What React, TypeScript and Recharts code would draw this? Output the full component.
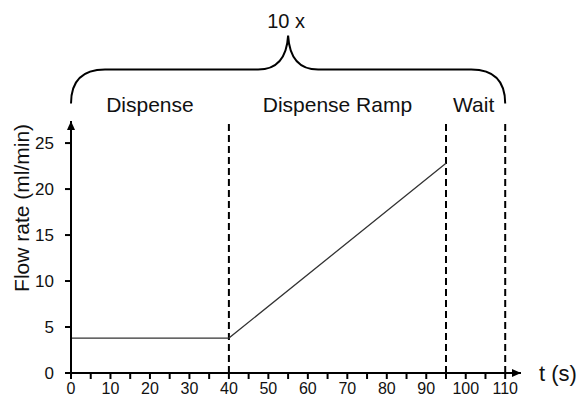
import {
  LineChart,
  Line,
  XAxis,
  YAxis,
  ReferenceLine,
  ReferenceDot,
  ReferenceArea,
} from "recharts";

const times = [0, 40, 95];
const flowRates = [3.8, 3.8, 22.8];
const xTicks = [0, 5, 10, 15, 20, 25, 30, 35, 40, 45, 50, 55, 60, 65, 70, 75, 80, 85, 90, 95, 100, 105, 110];
const yTicks = [0, 5, 10, 15, 20, 25];
const phaseBounds = [40, 95, 110];
const phaseNames = ["Dispense", "Dispense Ramp", "Wait"];
const phaseCenters = [20, 67.5, 102];
const repeatLabel = "10 x";

const data = times.map((t, i) => ({ t, flow: flowRates[i] }));

const FONT = "'Liberation Sans', Arial, sans-serif";

function XArrow(props: any) {
  const { cx, cy } = props;
  return (
    <g>
      <path d={`M${cx},${cy} L${cx - 9},${cy - 4} L${cx - 9},${cy + 4} Z`} fill="#000" />
      <text x={cx + 18} y={cy + 8} fontSize={22} fontFamily={FONT} fill="#111">
        t (s)
      </text>
    </g>
  );
}

function YArrow(props: any) {
  const { cx, cy } = props;
  return <path d={`M${cx},${cy} L${cx - 4},${cy + 9} L${cx + 4},${cy + 9} Z`} fill="#000" />;
}

function Brace(props: any) {
  const { x, y, width, height } = props;
  const r = 34;
  const mid = x + width / 2;
  const base = y + height - r;
  const d = [
    `M${x},${y + height}`,
    `Q${x},${base} ${x + r},${base}`,
    `L${mid - 30},${base}`,
    `Q${mid - 2},${base} ${mid},${y}`,
    `Q${mid + 2},${base} ${mid + 30},${base}`,
    `L${x + width - r},${base}`,
    `Q${x + width},${base} ${x + width},${y + height}`,
  ].join(" ");
  return <path d={d} fill="none" stroke="#000" strokeWidth={2} />;
}

function textShape(label: string, size: number) {
  return (props: any) => (
    <text
      x={props.cx}
      y={props.cy}
      textAnchor="middle"
      fontSize={size}
      fontFamily={FONT}
      fill="#111"
    >
      {label}
    </text>
  );
}

function YLabel(props: any) {
  const { viewBox } = props;
  const x = 22;
  const y = viewBox.y + viewBox.height * 0.345;
  return (
    <text
      x={x}
      y={y}
      transform={`rotate(-90 ${x} ${y})`}
      textAnchor="middle"
      dominantBaseline="central"
      fontSize={21}
      fontFamily={FONT}
      fill="#111"
    >
      Flow rate (ml/min)
    </text>
  );
}

export default function App() {
  return (
    <div style={{ position: "absolute", left: 0, top: 0, background: "#fff" }}>
      <LineChart
        width={579}
        height={401}
        data={data}
        margin={{ top: 121, right: 58, bottom: 0, left: 0 }}
      >
        <XAxis
          dataKey="t"
          type="number"
          domain={[0, 114]}
          ticks={xTicks}
          interval={0}
          tickFormatter={(v: number) => (v % 10 === 0 ? String(v) : "")}
          height={28}
          tickSize={6}
          tickMargin={4}
          axisLine={{ stroke: "#000", strokeWidth: 2 }}
          tickLine={{ stroke: "#000", strokeWidth: 2 }}
          tick={{ fontSize: 16, fontFamily: FONT, fill: "#111" }}
          allowDataOverflow
        />
        <YAxis
          type="number"
          domain={[0, 27.4]}
          ticks={yTicks}
          interval={0}
          width={71}
          tickSize={6}
          tickMargin={11}
          axisLine={{ stroke: "#000", strokeWidth: 2 }}
          tickLine={{ stroke: "#000", strokeWidth: 2 }}
          tick={{ fontSize: 17, fontFamily: FONT, fill: "#111" }}
          label={<YLabel />}
          allowDataOverflow
        />
        {phaseBounds.map((b) => (
          <ReferenceLine
            key={b}
            x={b}
            stroke="#000"
            strokeWidth={2}
            strokeDasharray="7 4"
          />
        ))}
        <Line
          type="linear"
          dataKey="flow"
          stroke="#333"
          strokeWidth={1.3}
          dot={false}
          isAnimationActive={false}
        />
        <ReferenceDot x={114} y={0} ifOverflow="visible" shape={XArrow} />
        <ReferenceDot x={0} y={27.4} ifOverflow="visible" shape={YArrow} />
        <ReferenceArea
          x1={0}
          x2={110}
          y1={29.3}
          y2={36.7}
          ifOverflow="visible"
          shape={Brace}
        />
        {phaseNames.map((name, i) => (
          <ReferenceDot
            key={name}
            x={phaseCenters[i]}
            y={28.4}
            ifOverflow="visible"
            shape={textShape(name, 21)}
          />
        ))}
        <ReferenceDot
          x={54.5}
          y={37.5}
          ifOverflow="visible"
          shape={textShape(repeatLabel, 20)}
        />
      </LineChart>
    </div>
  );
}
